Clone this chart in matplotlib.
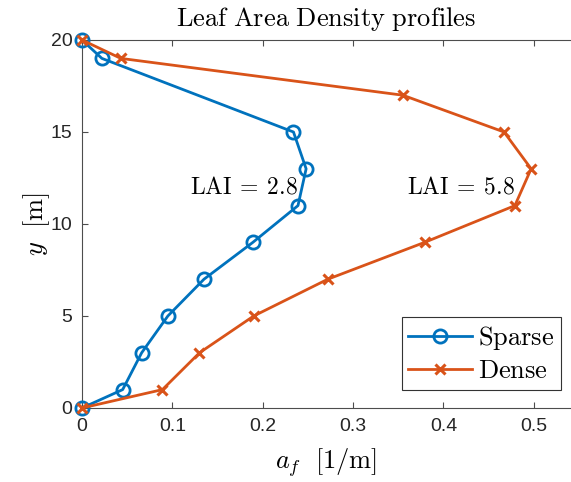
import numpy as np
from matplotlib import pyplot as plt

plt.rcParams['mathtext.fontset'] = 'cm'
plt.rcParams['font.family'] = ['Liberation Sans', 'DejaVu Sans']

# leaf area density profiles
height = [0, 1, 3, 5, 7, 9, 11, 13, 15, 17, 19, 20]
lad_sparse = [0, 0.045, 0.066, 0.095, 0.135, 0.189, 0.239, 0.248, 0.234, None, 0.022, 0]
lad_dense = [0, 0.089, 0.130, 0.190, 0.272, 0.379, 0.479, 0.497, 0.467, 0.355, 0.043, 0]
lai_labels = [r'$\mathrm{LAI}\:=\:2.8$', r'$\mathrm{LAI}\:=\:5.8$']
lai_pos = [(0.12, 12), (0.36, 12)]

blue = '#0072BD'
orange = '#D95319'
axcol = '#4d4d4d'


def print_graph():
    fig = plt.figure(figsize=(5.71, 4.82), dpi=100)
    ax = fig.add_axes([82/571, 74/482, 488/571, 368/482])

    ys = [h for h, v in zip(height, lad_sparse) if v is not None]
    xs = [v for v in lad_sparse if v is not None]
    ax.plot(xs, ys, color=blue, lw=2, marker='o', ms=9.5, mfc='none', mew=2,
            label='Sparse', clip_on=False, zorder=3)
    ax.plot(lad_dense, height, color=orange, lw=2, marker='x', ms=6.5, mew=2.2,
            label='Dense', clip_on=False, zorder=3)

    for txt, (x, y) in zip(lai_labels, lai_pos):
        ax.text(x, y, txt, fontsize=17, ha='left', va='center')

    ax.set_xlim(0, 0.54)
    ax.set_ylim(0, 20)
    ax.set_xticks([0, 0.1, 0.2, 0.3, 0.4, 0.5])
    ax.set_xticklabels(['0', '0.1', '0.2', '0.3', '0.4', '0.5'])
    ax.set_yticks([0, 5, 10, 15, 20])
    ax.tick_params(direction='in', length=4, width=0.8, colors=axcol, labelsize=14,
                   labelcolor='#262626', top=True, pad=7)
    for side in ['left', 'bottom', 'top']:
        ax.spines[side].set_color(axcol)
        ax.spines[side].set_linewidth(0.8)
    ax.spines['right'].set_visible(False)

    ax.set_title(r'$\mathrm{Leaf\ Area\ Density\ profiles}$', fontsize=19, pad=10)
    ax.set_xlabel(r'$a_f\ \ [1/\mathrm{m}]$', fontsize=19, labelpad=8)
    ax.set_ylabel(r'$y\ \ [\mathrm{m}]$', fontsize=19, labelpad=-1)

    leg = ax.legend(loc='lower right', bbox_to_anchor=(0.982, 0.049), borderaxespad=0,
                    fancybox=False, framealpha=1, edgecolor='#333333', handlelength=2.4,
                    handletextpad=0.25, borderpad=0.25, labelspacing=0.25,
                    prop={'family': 'serif', 'size': 19})
    leg.get_frame().set_linewidth(0.8)
    for t in leg.get_texts():
        t.set_text(r'$\mathrm{' + t.get_text() + '}$')

    plt.savefig('out.png', dpi=100)
    plt.close()


print_graph()
